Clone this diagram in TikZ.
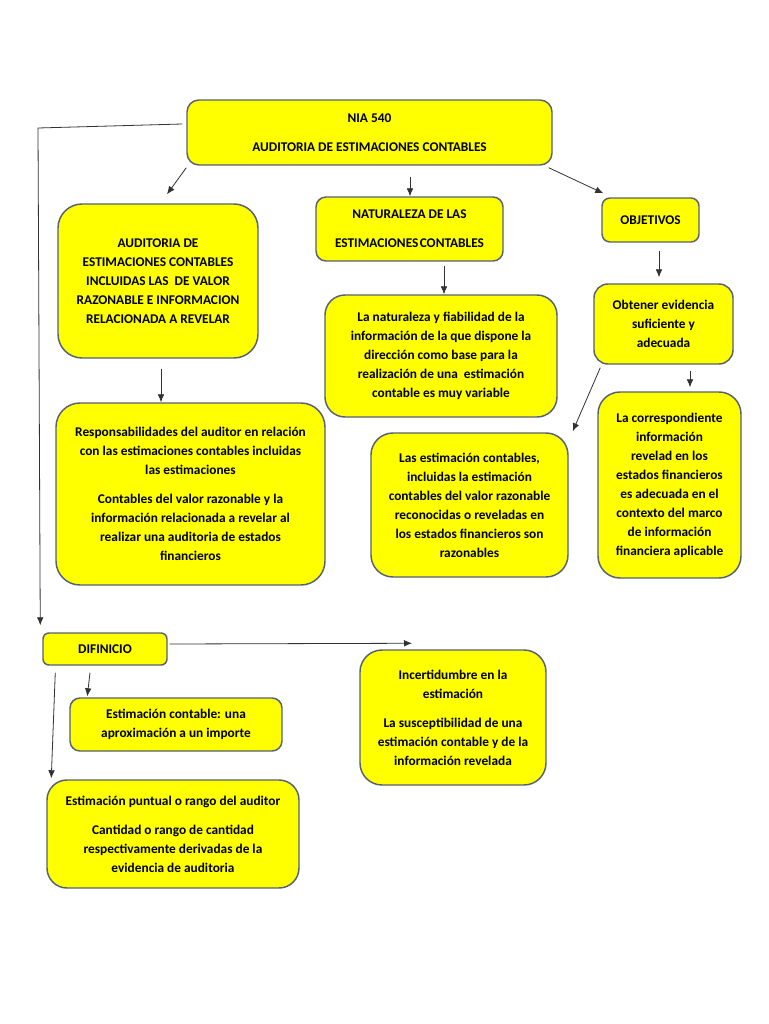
\documentclass[tikz,border=0pt]{standalone}
\usepackage{fontspec}
\setmainfont{Carlito}
\usetikzlibrary{arrows.meta,calc}
\newdimen\pxu \pxu=0.75pt
\definecolor{boxfill}{RGB}{255,255,0}
\definecolor{boxline}{RGB}{85,98,112}
\definecolor{arrcol}{RGB}{50,50,50}
\tikzset{
  box/.style={draw=boxline, fill=boxfill, line width=1.1pt, align=center,
    inner sep=0pt, font=\bfseries\fontsize{10}{14.25}\selectfont},
  arr/.style={draw=arrcol, line width=0.6pt, -{Latex[length=6pt,width=5pt]}},
  plain/.style={draw=arrcol, line width=0.6pt}
}
\newcommand\mybox[8]{% name, cx, cy, w, h, radius, text
  \node[box, rounded corners=#6*\pxu, minimum width=#4*\pxu, minimum height=#5*\pxu, #8] (#1) at (#2,#3) {#7};}
\begin{document}
\begin{tikzpicture}[x=0.75pt,y=-0.75pt]
\useasboundingbox[fill=white] (0,0) rectangle (768,1024);

\mybox{top}{369.5}{132.5}{365}{65}{12}{NIA 540\\[10\pxu]AUDITORIA DE ESTIMACIONES CONTABLES}{}
\mybox{aud}{158}{281}{200}{154}{24}{AUDITORIA DE\\ESTIMACIONES CONTABLES\\INCLUIDAS LAS \ DE VALOR\\RAZONABLE E INFORMACION\\RELACIONADA A REVELAR}{}
\mybox{resp}{190.5}{494}{269}{182}{24}{Responsabilidades del auditor en relación\\con las estimaciones contables incluidas\\las estimaciones\\[10\pxu]Contables del valor razonable y la\\información relacionada a revelar al\\realizar una auditoria de estados\\financieros}{}
\mybox{nat}{409.5}{229}{187}{64}{10}{NATURALEZA DE LAS\\[10\pxu]ESTIMACIONES\hspace{1pt}CONTABLES}{}
\mybox{lanat}{441}{356}{232}{122}{20}{La naturaleza y fiabilidad de la\\información de la que dispone la\\dirección como base para la\\realización de una \ estimación\\contable es muy variable}{}
\mybox{obj}{650.5}{220}{97}{44}{8}{OBJETIVOS}{}
\mybox{obt}{663.5}{324}{139}{80}{14}{Obtener evidencia\\suficiente y\\adecuada}{}
\mybox{lasest}{469.5}{505}{197}{144}{22}{Las estimación contables,\\incluidas la estimación\\contables del valor razonable\\reconocidas o reveladas en\\los estados financieros son\\razonables}{}
\mybox{corr}{669.5}{485}{143}{186}{22}{La correspondiente\\información\\revelad en los\\estados financieros\\es adecuada en el\\contexto del marco\\de información\\financiera aplicable}{}
\mybox{dif}{105}{649}{124}{32}{6}{DIFINICIO}{}
\mybox{inc}{453}{717.5}{186}{135}{22}{Incertidumbre en la\\estimación\\[10\pxu]La susceptibilidad de una\\estimación contable y de la\\información revelada}{}
\mybox{estc}{176}{724.5}{212}{53}{10}{Estimación contable: una\\aproximación a un importe}{}
\mybox{punt}{173}{834}{252}{108}{20}{Estimación puntual o rango del auditor\\[10\pxu]Cantidad o rango de cantidad\\respectivamente derivadas de la\\evidencia de auditoria}{}

\coordinate (corner) at (38,128);
\draw[arr] ($(top.west)+(-4,-8.5)$) -- (corner) -- ($(dif.north west)+(-2,-7)$);
\draw[arr] ($(top.south west)+(0,2)$) -- ($(aud.north)+(9,-9)$);
\draw[arr] ($(nat.north)+(0.5,-19)$) -- ($(nat.north)+(0.5,0)$);
\draw[arr] ($(top.south east)+(-4,2)$) -- ($(obj.north west)+(2,-4)$);
\draw[arr] ($(aud.south)+(3,10)$) -- ($(resp.north)+(-29.5,0)$);
\draw[arr] ($(nat.south)+(34.5,4)$) -- ($(lanat.north)+(3,0)$);
\draw[arr] ($(obj.south)+(8.5,8)$) -- ($(obt.north)+(-4.5,-6)$);
\draw[arr] ($(obt.south west)+(7,3)$) -- ($(lasest.north east)+(4,-1)$);
\draw[arr] ($(obt.south)+(26.5,6)$) -- ($(corr.north)+(20.5,-4)$);
\draw[arr] ($(dif.east)+(2,-5)$) -- ($(inc.north)+(-41,-6)$);
\draw[arr] ($(dif.south)+(-15,7)$) -- ($(estc.north west)+(18,-1)$);
\draw[arr] ($(dif.south west)+(13,7)$) -- ($(punt.north west)+(5,-1)$);
\end{tikzpicture}
\end{document}
